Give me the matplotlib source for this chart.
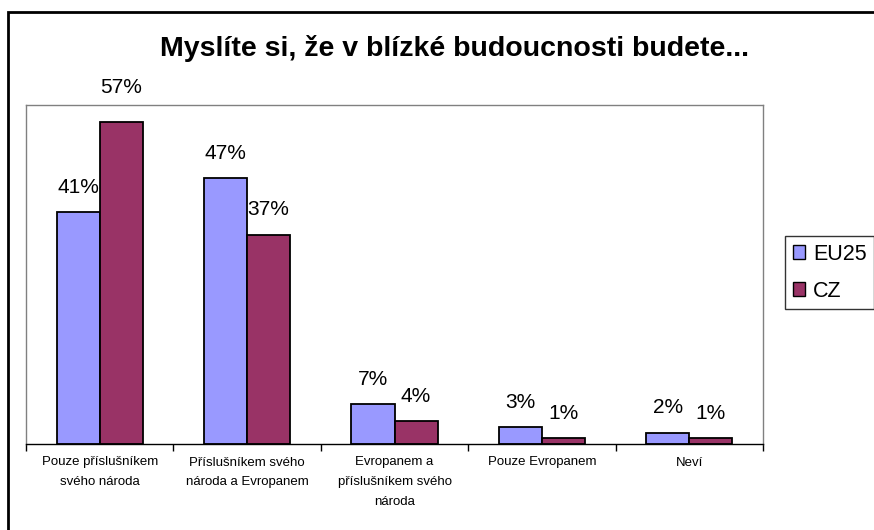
import matplotlib
matplotlib.use("Agg")
import matplotlib.pyplot as plt
from matplotlib.patches import Patch, Rectangle

categories = ["Pouze příslušníkem\nsvého národa",
              "Příslušníkem svého\nnároda a Evropanem",
              "Evropanem a\npříslušníkem svého\nnároda",
              "Pouze Evropanem",
              "Neví"]
eu25 = [41, 47, 7, 3, 2]
cz = [57, 37, 4, 1, 1]
series_names = ["EU25", "CZ"]
colors = ["#9999FF", "#993366"]

plt.rcParams['font.family'] = ['Liberation Sans', 'DejaVu Sans']

W, H = 874, 530
fig = plt.figure(figsize=(W / 100, H / 100), dpi=100)
fig.patch.set_facecolor("white")

# plot area in pixels: left 26, right 763, top 105, bottom 444
ax = fig.add_axes([26 / W, (H - 444) / H, (763 - 26) / W, (444 - 105) / H])

bw = 0.292
x = list(range(len(categories)))
for vals, name, col, sh in [(eu25, series_names[0], colors[0], -0.5),
                            (cz, series_names[1], colors[1], 0.5)]:
    pos = [i + sh * bw for i in x]
    ax.bar(pos, vals, width=bw, color=col, edgecolor="black", linewidth=1.3)
    for p, v in zip(pos, vals):
        off = 25 if v == max(cz) else 18
        ax.annotate(f"{v}%", (p, v), xytext=(0, off), textcoords="offset points",
                    ha="center", va="center", fontsize=15, annotation_clip=False)

ax.set_xlim(-0.5, len(categories) - 0.5)
ax.set_ylim(0, 60)
ax.set_yticks([])
ax.set_xticks(x)
ax.set_xticklabels(categories, fontsize=9.5, linespacing=1.85)
ax.tick_params(axis="x", which="major", length=0, pad=9)
ax.set_xticks([i - 0.5 for i in range(len(categories) + 1)], minor=True)
ax.tick_params(axis="x", which="minor", length=5, width=1, direction="out", color="black")

for s in ["top", "right", "left"]:
    ax.spines[s].set_color("#808080")
    ax.spines[s].set_linewidth(1)
ax.spines["bottom"].set_color("black")
ax.spines["bottom"].set_linewidth(1)

fig.text(454 / W, 1 - 48 / H, "Myslíte si, že v blízké budoucnosti budete...",
         ha="center", va="center", fontsize=20.5, fontweight="bold")

handles = [Patch(facecolor=c, edgecolor="black", linewidth=1) for c in colors]
leg = fig.legend(handles, series_names, loc="upper left",
                 bbox_to_anchor=(785 / W, 1 - 236 / H), bbox_transform=fig.transFigure,
                 borderaxespad=0, fontsize=15.5, frameon=True, fancybox=False,
                 handlelength=0.6, handleheight=0.6, handletextpad=0.35,
                 labelspacing=0.75, borderpad=0.35)
leg.get_frame().set_edgecolor("black")
leg.get_frame().set_linewidth(1)

# outer chart border (right and bottom edges run off the picture)
fig.patches.append(Rectangle((8 / W, -0.1), 1.2, 1.1 - 12 / H, transform=fig.transFigure,
                             fill=False, edgecolor="black", linewidth=2, clip_on=False))

fig.savefig("out.png", dpi=100)
